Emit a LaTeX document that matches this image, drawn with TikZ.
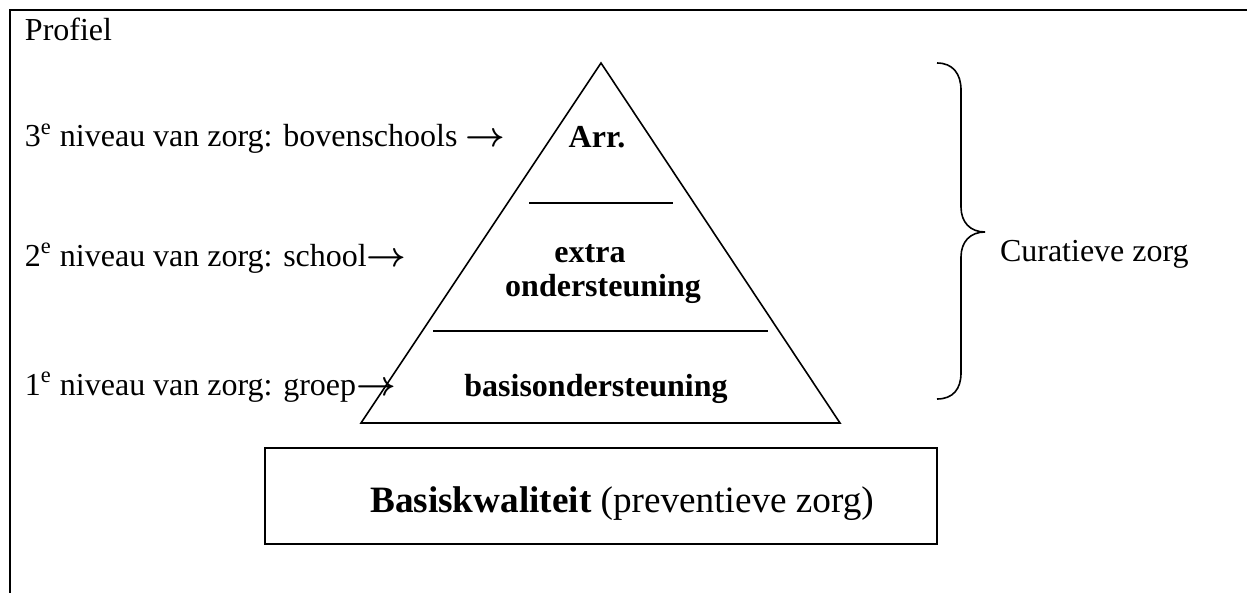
\documentclass[tikz,border=0pt]{standalone}
\usepackage{fontspec}
\setmainfont{Liberation Serif}
\newcommand{\rarr}{{\boldmath$\rightarrow$}}
\begin{document}
\begin{tikzpicture}[x=0.5pt,y=-0.5pt,
  txt/.style={inner sep=0pt,outer sep=0pt,font=\fontsize{16}{19}\selectfont},
  btxt/.style={txt,font=\fontsize{16}{19}\selectfont\bfseries},
  frameline/.style={line width=1pt},
  shapeline/.style={line width=0.8pt}]
\useasboundingbox (0,0) rectangle (1247,593);
% outer frame (open at right and bottom)
\coordinate (fbl) at (10,593);
\coordinate (ftl) at (10,10);
\coordinate (ftr) at (1247,10);
\draw[frameline] (fbl) -- (ftl) -- (ftr);
\node[txt,anchor=base west] (profiel) at (25,41) {Profiel};
% pyramid
\coordinate (apex) at (601,63);
\coordinate (bl) at (361,423);
\coordinate (br) at (840,423);
\draw[shapeline,line join=miter] (apex) -- (bl) -- (br) -- cycle;
\coordinate (l1a) at (529,203);
\coordinate (l1b) at (673,203);
\coordinate (l2a) at (433,331);
\coordinate (l2b) at (768,331);
\draw[shapeline] (l1a) -- (l1b);
\draw[shapeline] (l2a) -- (l2b);
\node[btxt,anchor=base] (arr) at (597,148) {Arr.};
\node[btxt,anchor=base] (extra) at (590,263) {extra};
\node[btxt,anchor=base] (onder) at (603,297) {ondersteuning};
\node[btxt,anchor=base] (basis) at (596,396) {basisondersteuning};
% left labels
\node[txt,anchor=base west] (n3) at (25,147) {3\textsuperscript{e} niveau van zorg: bovenschools \rarr};
\node[txt,anchor=base west] (n2) at (25,266) {2\textsuperscript{e} niveau van zorg: school\rarr};
\node[txt,anchor=base west] (n1) at (25,395) {1\textsuperscript{e} niveau van zorg: groep\rarr};
% brace
\coordinate (bt) at (937,63);
\coordinate (bb) at (937,399);
\coordinate (tip) at (985,232);
\draw[shapeline] (bt) .. controls (953,63) and (961,74) .. (961,90) -- (961,207)
  .. controls (961,222) and (970,232) .. (tip)
  .. controls (970,232) and (961,242) .. (961,257) -- (961,373)
  .. controls (961,389) and (953,399) .. (bb);
\node[txt,anchor=base west] (cur) at (1000,262) {Curatieve zorg};
% bottom box
\coordinate (boxa) at (265,448);
\coordinate (boxb) at (937,544);
\draw[frameline] (boxa) rectangle (boxb);
\node[txt,anchor=base,font=\fontsize{18.6}{22}\selectfont] (bk) at (622,512) {\textbf{Basiskwaliteit} (preventieve zorg)};
\end{tikzpicture}
\end{document}
